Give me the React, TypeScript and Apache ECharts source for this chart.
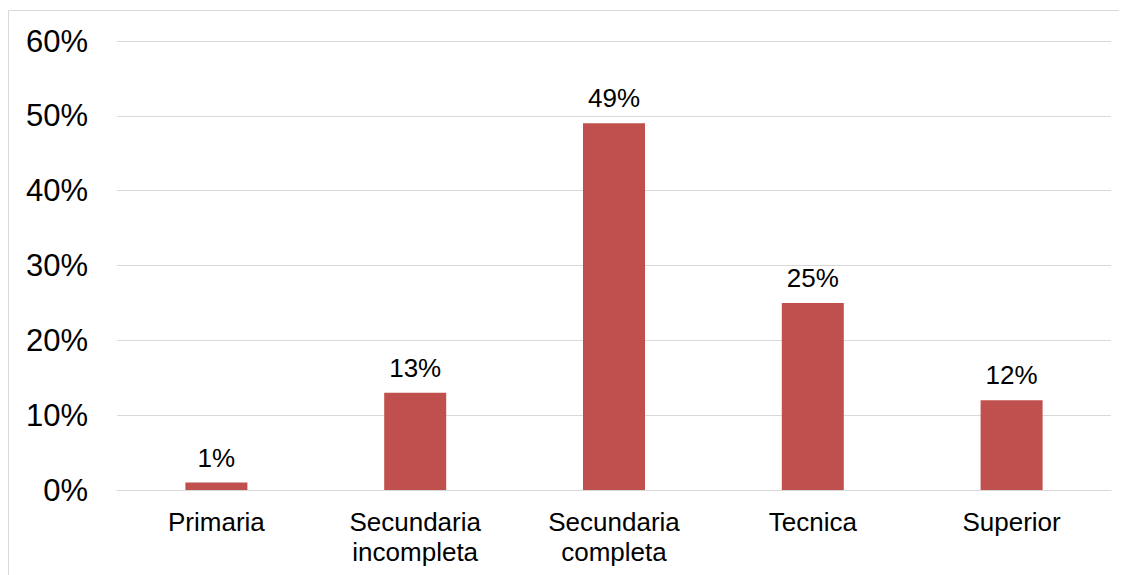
import React, { useEffect, useRef } from "react";
import * as echarts from "echarts";

const categories = ["Primaria", "Secundaria\nincompleta", "Secundaria\ncompleta", "Tecnica", "Superior"];
const values = [1, 13, 49, 25, 12];

export default function App() {
  const ref = useRef<HTMLDivElement>(null);
  useEffect(() => {
    const chart = echarts.init(ref.current!, null, { renderer: "svg" });
    chart.setOption({
      animation: false,
      graphic: [
        {
          type: "rect",
          shape: { x: 0.5, y: 2.5, width: 2000, height: 2000 },
          style: { fill: "none", stroke: "#d9d9d9", lineWidth: 1 },
          silent: true,
        },
      ],
      grid: { left: 109, right: 16, top: 33, bottom: 85 },
      xAxis: {
        type: "category",
        data: categories,
        axisLine: { show: true, lineStyle: { color: "#d9d9d9", width: 1 } },
        axisTick: { show: false },
        axisLabel: {
          fontFamily: "Liberation Sans, Arial, sans-serif",
          fontSize: 26,
          color: "#000",
          lineHeight: 30,
          margin: 17,
          interval: 0,
        },
      },
      yAxis: {
        type: "value",
        min: 0,
        max: 60,
        interval: 10,
        axisLine: { show: false },
        axisTick: { show: false },
        splitLine: { lineStyle: { color: "#d9d9d9", width: 1 } },
        axisLabel: {
          formatter: "{value}%",
          fontFamily: "Liberation Sans, Arial, sans-serif",
          fontSize: 31,
          color: "#000",
          margin: 29,
        },
      },
      series: [
        {
          type: "bar",
          data: values,
          barWidth: 62,
          itemStyle: { color: "#c0504d" },
          label: {
            show: true,
            position: "top",
            distance: 12,
            formatter: "{c}%",
            fontFamily: "Liberation Sans, Arial, sans-serif",
            fontSize: 26,
            color: "#000",
          },
        },
      ],
    });
    return () => chart.dispose();
  }, []);
  return <div ref={ref} style={{ width: 1119, height: 567 }} />;
}
